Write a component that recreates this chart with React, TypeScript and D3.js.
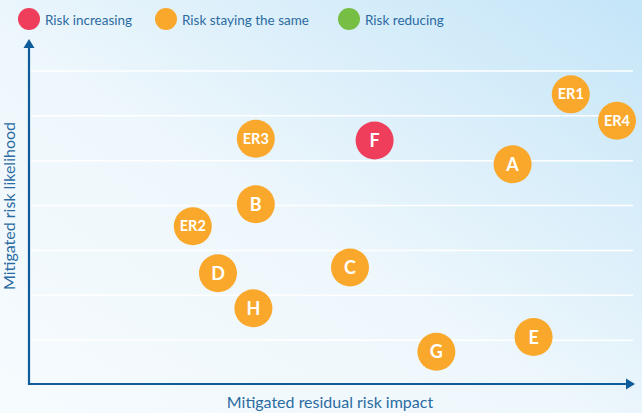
import React from 'react'
import * as d3 from 'd3'

// risk register positions
const riskNames = ['ER1', 'ER4', 'ER3', 'F', 'A', 'B', 'ER2', 'C', 'D', 'H', 'E', 'G']
const impactValues = [9.03, 9.8, 3.78, 5.76, 8.06, 3.78, 2.73, 5.35, 3.15, 3.74, 8.41, 6.79]
const likelihoodValues = [6.48, 5.89, 5.49, 5.45, 4.92, 4.03, 3.54, 2.62, 2.49, 1.71, 1.07, 0.74]
const riskTrend = ['same', 'same', 'same', 'up', 'same', 'same', 'same', 'same', 'same', 'same', 'same', 'same']

const legendKeys = ['up', 'same', 'down']
const legendLabels = ['Risk increasing', 'Risk staying the same', 'Risk reducing']
const gridTicks = [1, 2, 3, 4, 5, 6, 7]

const W = 642
const H = 413
const font = 'Lato, "Open Sans", sans-serif'
const blue = '#0e5d9a'

export default function App() {
  var x = d3.scaleLinear().domain([0, 10]).range([29, 629])
  var y = d3.scaleLinear().domain([0, 7]).range([385, 71])
  var color = d3.scaleOrdinal<string, string>()
    .domain(legendKeys)
    .range(['#ee3e5b', '#f9a82c', '#77be44'])
  var legendPos: { [k: string]: number } = { up: 29, same: 166, down: 349 }

  var r = 19
  var axisY = 384

  return (
    <div style={{ position: 'absolute', left: 0, top: 0, width: W, height: H }}>
      <svg width={W} height={H} style={{ display: 'block' }}>
        <defs>
          <linearGradient id="bg" x1="0" y1="1" x2="1" y2="0">
            <stop offset="0" stopColor="#f6fbfe" />
            <stop offset="0.45" stopColor="#eef7fc" />
            <stop offset="1" stopColor="#c4e5f8" />
          </linearGradient>
        </defs>
        <rect width={W} height={H} fill="url(#bg)" />

        {/* legend */}
        {legendKeys.map(function (k, i) {
          var cx = legendPos[k]
          return (
            <g key={k}>
              <circle cx={cx} cy={19} r={11} fill={color(k)} />
              <text x={cx + 16} y={24.5} fontFamily={font} fontSize={13.5}
                fill="#2b6ba2">{legendLabels[i]}</text>
            </g>
          )
        })}

        {/* gridlines */}
        {gridTicks.map(function (t) {
          return (
            <line key={t} x1={31} x2={633} y1={y(t)} y2={y(t)}
              stroke="#ffffff" strokeWidth={1.5} />
          )
        })}

        {/* axes */}
        <line x1={29} x2={29} y1={46} y2={axisY + 1} stroke={blue} strokeWidth={2.2} />
        <path d={`M29,39 L23.5,48 L34.5,48 Z`} fill={blue} />
        <line x1={28} x2={627} y1={axisY} y2={axisY} stroke={blue} strokeWidth={2.2} />
        <path d={`M635,${axisY} L626,${axisY - 5.5} L626,${axisY + 5.5} Z`} fill={blue} />

        <text x={330} y={408} textAnchor="middle" fontFamily={font} fontSize={16}
          fill="#2b6ba2">Mitigated residual risk impact</text>
        <text transform="translate(15,206) rotate(-90)" textAnchor="middle"
          fontFamily={font} fontSize={16} fill="#2b6ba2">Mitigated risk likelihood</text>

        {/* bubbles */}
        {riskNames.map(function (name, i) {
          var cx = x(impactValues[i])
          var cy = y(likelihoodValues[i])
          var big = name.length === 1
          return (
            <g key={name}>
              <circle cx={cx} cy={cy} r={r} fill={color(riskTrend[i])} />
              <text x={cx} y={cy} dy={big ? 6.5 : 5} textAnchor="middle"
                fontFamily={font} fontWeight={700} fontSize={big ? 18 : 14.5}
                fill="#ffffff">{name}</text>
            </g>
          )
        })}
      </svg>
    </div>
  )
}
